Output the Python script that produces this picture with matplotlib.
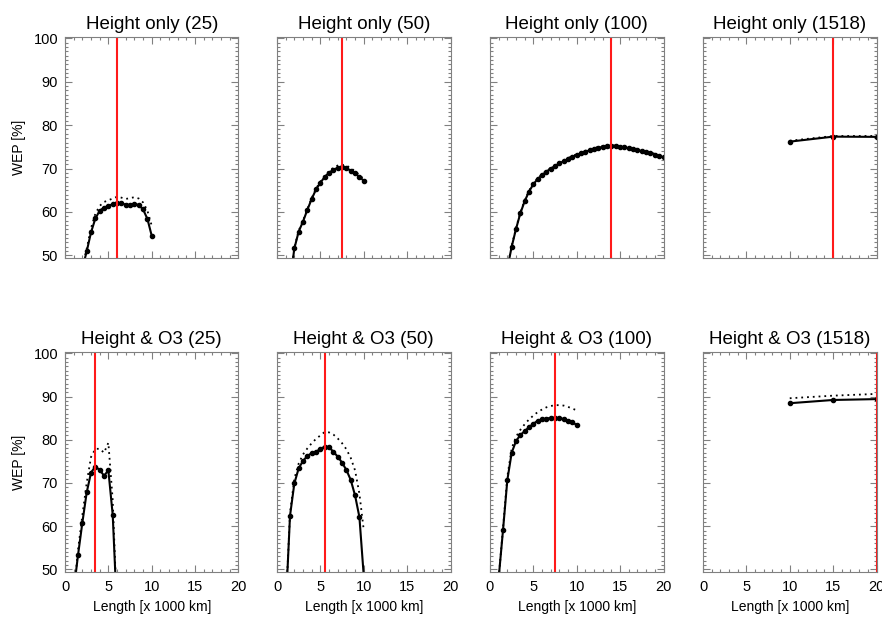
import numpy as np
import matplotlib
matplotlib.use("Agg")
import matplotlib.pyplot as plt
from matplotlib.ticker import MultipleLocator

plt.rcParams['font.family'] = ['Liberation Sans', 'DejaVu Sans']

# ---------------- data ----------------
titles = ["Height only (25)", "Height only (50)", "Height only (100)", "Height only (1518)",
          "Height & O3 (25)", "Height & O3 (50)", "Height & O3 (100)", "Height & O3 (1518)"]

# Height only (25)
x_h25 = [2.0, 2.5, 3.0, 3.5, 4.0, 4.5, 5.0, 5.5, 6.0, 6.5, 7.0, 7.5, 8.0, 8.5, 9.0, 9.5, 10.0]
s_h25 = [47.0, 50.9, 55.3, 58.5, 60.3, 61.0, 61.4, 61.8, 62.1, 62.0, 61.7, 61.6, 61.9, 61.6, 60.6, 58.4, 54.5]
d_h25 = [47.5, 51.5, 56.3, 59.6, 61.4, 62.3, 62.7, 63.1, 63.5, 63.3, 63.0, 63.2, 63.4, 63.1, 62.2, 60.3, 56.8]
best_h25 = 6.0

# Height only (50)
x_h50 = [1.5, 2.0, 2.5, 3.0, 3.5, 4.0, 4.5, 5.0, 5.5, 6.0, 6.5, 7.0, 7.5, 8.0, 8.5, 9.0, 9.5, 10.0]
s_h50 = [44.0, 51.6, 55.5, 57.8, 60.5, 63.0, 65.2, 66.7, 68.1, 69.05, 69.7, 70.2, 70.3, 70.1, 69.5, 68.9, 68.1, 67.2]
d_h50 = [44.2, 51.8, 55.7, 58.0, 60.7, 63.2, 65.4, 67.0, 68.4, 69.4, 70.2, 70.7, 70.9, 70.7, 70.1, 69.4, 68.5, 67.6]
best_h50 = 7.5

# Height only (100)
x_h100 = [2.0, 2.5, 3.0, 3.5, 4.0, 4.5, 5.0, 5.5, 6.0, 6.5, 7.0, 7.5, 8.0, 8.5, 9.0, 9.5,
          10.0, 10.5, 11.0, 11.5, 12.0, 12.5, 13.0, 13.5, 14.0, 14.5, 15.0, 15.5, 16.0,
          16.5, 17.0, 17.5, 18.0, 18.5, 19.0, 19.5, 20.0]
s_h100 = [47.0, 52.0, 56.1, 59.7, 62.5, 64.7, 66.4, 67.6, 68.5, 69.3, 70.0, 70.6, 71.2, 71.7,
          72.2, 72.7, 73.1, 73.5, 73.9, 74.2, 74.5, 74.8, 75.0, 75.1, 75.2, 75.1, 75.0, 74.9,
          74.7, 74.5, 74.3, 74.0, 73.8, 73.5, 73.2, 72.9, 72.6]
d_h100 = [47.2, 52.2, 56.3, 59.9, 62.7, 64.9, 66.6, 67.8, 68.7, 69.5, 70.2, 70.8, 71.4, 71.9,
          72.4, 72.9, 73.3, 73.7, 74.1, 74.4, 74.7, 75.0, 75.2, 75.3, 75.4, 75.3, 75.2, 75.1,
          74.9, 74.7, 74.5, 74.2, 74.0, 73.7, 73.4, 73.1, 72.8]
best_h100 = 14.0

# Height only (1518)
x_h1518 = [10.0, 15.0, 20.0]
s_h1518 = [76.2, 77.35, 77.3]
d_h1518 = [76.4, 77.5, 77.5]
best_h1518 = 15.0

# Height & O3 (25)
x_o25 = [1.0, 1.5, 2.0, 2.5, 3.0, 3.5, 4.0, 4.5, 5.0, 5.5, 6.0]
s_o25 = [45.0, 53.3, 60.8, 67.8, 72.4, 73.8, 73.0, 71.7, 72.9, 62.6, 40.0]
d_o25 = [44.0, 54.5, 62.5, 70.0, 76.0, 77.9, 77.9, 77.0, 79.3, 66.0, 40.0]
best_o25 = 3.5

# Height & O3 (50)
x_o50 = [1.0, 1.5, 2.0, 2.5, 3.0, 3.5, 4.0, 4.5, 5.0, 5.5, 6.0, 6.5, 7.0, 7.5, 8.0, 8.5, 9.0, 9.5, 10.0]
s_o50 = [40.7, 62.4, 69.9, 73.4, 75.1, 76.25, 76.9, 77.2, 77.9, 78.4, 78.3, 77.2, 76.1, 74.7,
         73.0, 70.7, 67.1, 62.1, 48.5]
d_o50 = [41.0, 63.0, 71.0, 74.5, 76.6, 78.0, 79.2, 80.2, 81.0, 81.8, 81.7, 81.2, 80.3, 79.2,
         77.8, 75.8, 72.9, 67.5, 59.1]
best_o50 = 5.5

# Height & O3 (100)
x_o100 = [1.0, 1.5, 2.0, 2.5, 3.0, 3.5, 4.0, 4.5, 5.0, 5.5, 6.0, 6.5, 7.0, 7.5, 8.0, 8.5, 9.0, 9.5, 10.0]
s_o100 = [48.0, 59.1, 70.7, 77.0, 79.7, 81.1, 82.0, 82.9, 83.7, 84.4, 84.7, 84.9, 85.05, 85.05,
          85.0, 84.8, 84.4, 84.05, 83.4]
d_o100 = [48.0, 59.5, 71.5, 78.0, 80.7, 82.3, 83.6, 84.7, 85.6, 86.4, 87.0, 87.5, 87.8, 88.0,
          88.0, 87.9, 87.6, 87.2, 86.8]
best_o100 = 7.5

# Height & O3 (1518)
x_o1518 = [10.0, 15.0, 20.0]
s_o1518 = [88.45, 89.2, 89.4]
d_o1518 = [89.6, 90.2, 90.6]
best_o1518 = 20.0

panels = [
    (x_h25, s_h25, d_h25, best_h25),
    (x_h50, s_h50, d_h50, best_h50),
    (x_h100, s_h100, d_h100, best_h100),
    (x_h1518, s_h1518, d_h1518, best_h1518),
    (x_o25, s_o25, d_o25, best_o25),
    (x_o50, s_o50, d_o50, best_o50),
    (x_o100, s_o100, d_o100, best_o100),
    (x_o1518, s_o1518, d_o1518, best_o1518),
]

x_ticks = [0, 5, 10, 15, 20]
y_ticks = [50, 60, 70, 80, 90, 100]

# ---------------- layout ----------------
W, H = 882, 619
fig = plt.figure(figsize=(W / 100, H / 100), dpi=100)

col_left_px = [65, 277, 490, 703]
ax_w_px = 173.5
rows = [(37, 258), (352, 572)]

frame_col = '#808080'

for i, (xs, ss, ds, best) in enumerate(panels):
    r, c = divmod(i, 4)
    top, bot = rows[r]
    ax = fig.add_axes([col_left_px[c] / W, (H - bot) / H, ax_w_px / W, (bot - top) / H])
    ax.plot(xs, ds, color='black', linestyle=(0, (1, 2.2)), lw=1.3)
    ax.plot(xs, ss, color='black', lw=1.5, marker='o', ms=3.0)
    ax.axvline(best, color='#ff1a1a', lw=1.5)
    ax.set_xlim(0, 20)
    ax.set_ylim(49.4, 100.3)
    ax.set_xticks(x_ticks)
    ax.set_yticks(y_ticks)
    ax.xaxis.set_minor_locator(MultipleLocator(1))
    ax.yaxis.set_minor_locator(MultipleLocator(1))
    ax.tick_params(which='both', direction='in', top=True, right=True, color=frame_col,
                   labelsize=10.5, width=0.8)
    ax.tick_params(which='major', length=5)
    ax.tick_params(which='minor', length=2.5)
    ax.tick_params(axis='y', pad=5)
    ax.tick_params(axis='x', pad=6)
    for sp in ax.spines.values():
        sp.set_color(frame_col)
        sp.set_linewidth(0.8)
    ax.set_title(titles[i], fontsize=13.5, pad=6)
    if r == 0:
        ax.set_xticklabels([])
    else:
        ax.set_xlabel("Length [x 1000 km]", fontsize=10, labelpad=4)
    if c != 0:
        ax.set_yticklabels([])
    else:
        ax.set_ylabel("WEP [%]", fontsize=10, labelpad=5)

fig.savefig("out.png", dpi=100)
